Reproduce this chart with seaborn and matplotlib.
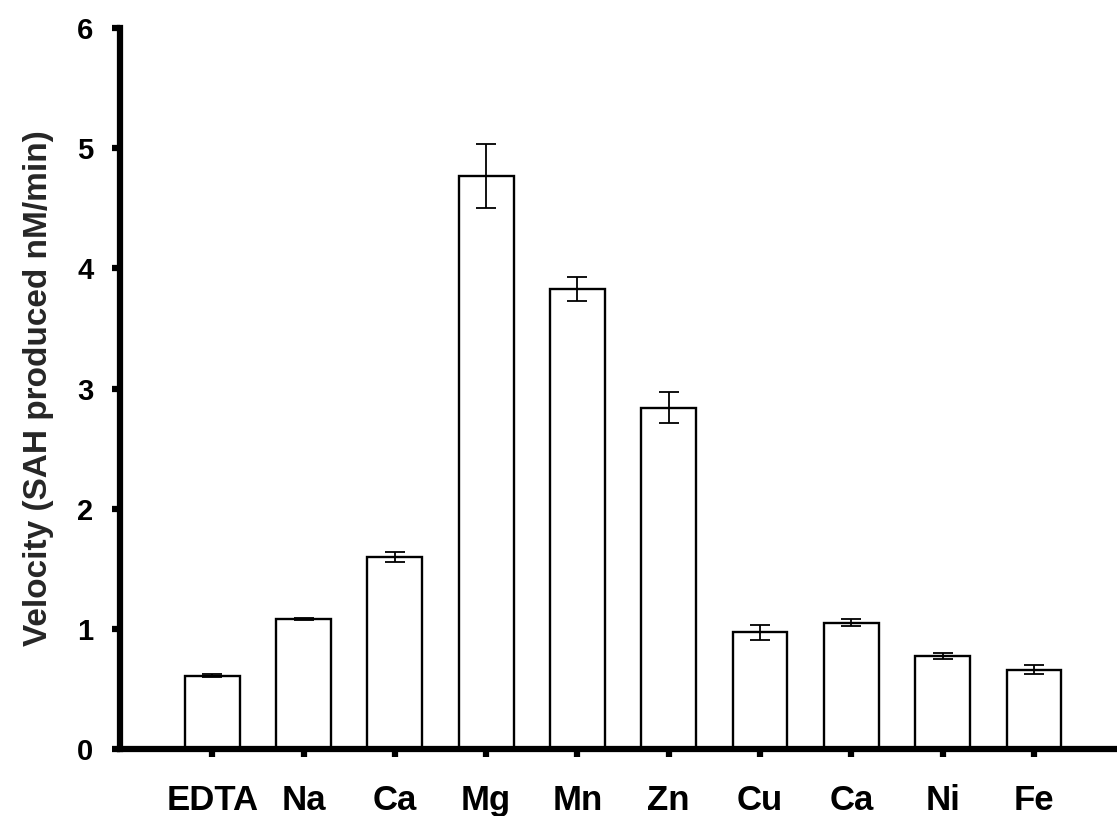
import matplotlib
matplotlib.use("Agg")
import matplotlib.pyplot as plt
import seaborn as sns
import pandas as pd

# Enzyme velocity with different metal ions
ions = ["EDTA", "Na", "Ca", "Mg", "Mn", "Zn", "Cu", "Ca ", "Ni", "Fe"]
velocity = [0.61, 1.08, 1.60, 4.77, 3.83, 2.84, 0.97, 1.05, 0.77, 0.66]
sem = [0.01, 0.01, 0.04, 0.265, 0.10, 0.13, 0.06, 0.03, 0.025, 0.04]
y_ticks = [0, 1, 2, 3, 4, 5, 6]

sns.set_theme(style="white")
plt.rcParams["font.family"] = ["Liberation Sans", "DejaVu Sans"]
plt.rcParams["font.weight"] = "bold"

df = pd.DataFrame({"ion": ions, "velocity": velocity})

fig = plt.figure(figsize=(11.17, 8.16), dpi=100)
ax = fig.add_axes([120 / 1117, 1 - 749 / 816, 1 - 120 / 1117, (749 - 28) / 816])

sns.barplot(data=df, x="ion", y="velocity", ax=ax, color="white",
            edgecolor="black", linewidth=1.7, width=0.6, errorbar=None,
            saturation=1)

xs = [p.get_x() + p.get_width() / 2 for p in ax.patches]
ax.errorbar(xs, velocity, yerr=sem, fmt="none", ecolor="black",
            elinewidth=1.3, capsize=7.5, capthick=1.3, zorder=5)

ax.set_xlim(-1.01, 9.91)
ax.set_ylim(0, 6)
ax.set_yticks(y_ticks)
ax.set_yticklabels([str(t) for t in y_ticks])
ax.set_xticks(range(len(ions)))
ax.set_xticklabels([i.strip() for i in ions])

ax.set_xlabel("")
ax.set_ylabel("Velocity (SAH produced nM/min)", fontsize=24, fontweight="bold",
              labelpad=17)

for side in ["top", "right"]:
    ax.spines[side].set_visible(False)
for side in ["left", "bottom"]:
    ax.spines[side].set_linewidth(4.5)
    ax.spines[side].set_color("black")

ax.tick_params(axis="y", direction="out", length=6, width=4.5, labelsize=21,
               pad=13, left=True, colors="black")
ax.tick_params(axis="x", direction="out", length=6, width=4.5, labelsize=25,
               pad=19, bottom=True, colors="black")
for lab in ax.get_xticklabels() + ax.get_yticklabels():
    lab.set_fontweight("bold")

ax.spines["left"].set_bounds(0, 6)

fig.savefig("out.png", dpi=100)
